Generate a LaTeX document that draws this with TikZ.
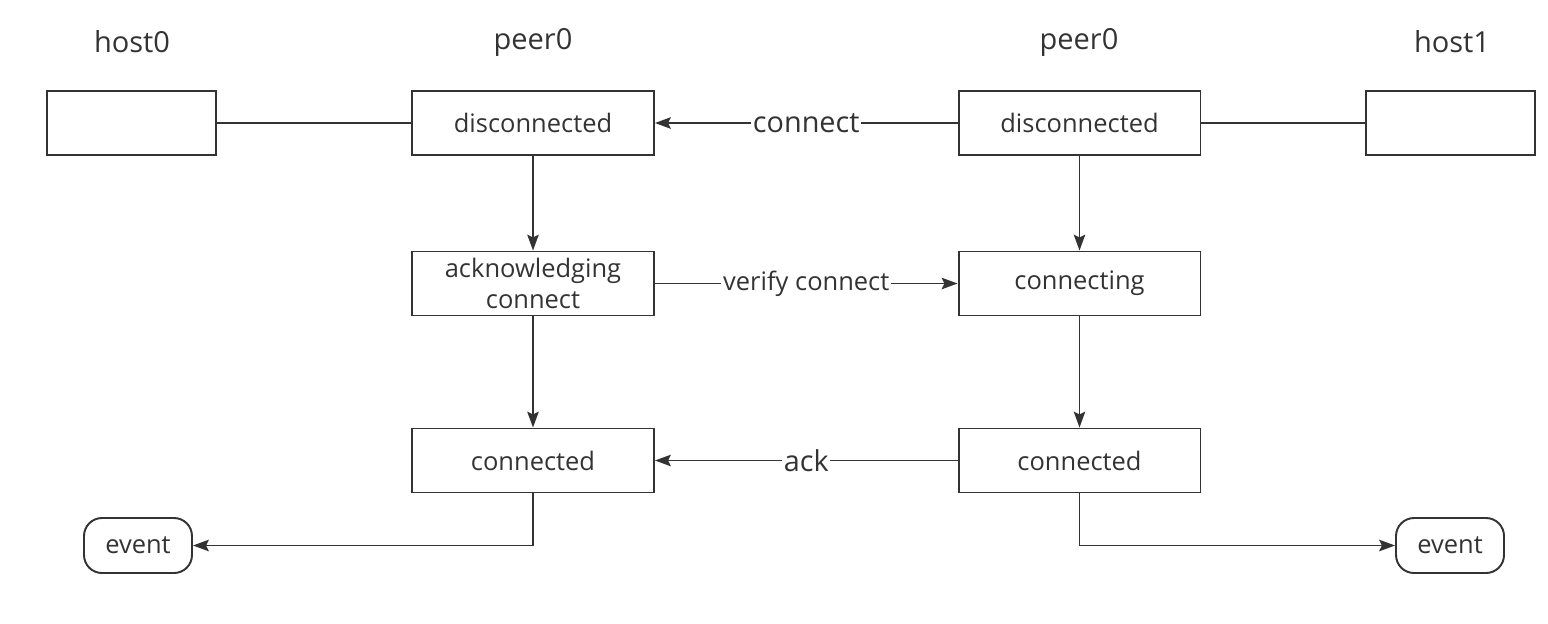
\documentclass[tikz,border=0pt]{standalone}
\usepackage{fontspec}
\setmainfont{Open Sans}
\usetikzlibrary{arrows.meta}
\definecolor{ink}{HTML}{333333}
\begin{document}
\begin{tikzpicture}[x=0.02cm,y=-0.02cm,
  every node/.style={text=ink},
  state/.style={draw=ink,line width=1.1pt,minimum width=4.84cm,minimum height=1.28cm,
    inner sep=0pt,align=center,font=\fontsize{14.5}{16}\selectfont},
  hostbox/.style={draw=ink,line width=1.1pt,minimum width=3.38cm,minimum height=1.28cm,inner sep=0pt},
  eventbox/.style={draw=ink,line width=1.1pt,rounded corners=0.36cm,minimum width=2.16cm,
    minimum height=1.1cm,inner sep=0pt,font=\fontsize{14.5}{16}\selectfont},
  title/.style={font=\fontsize{16.5}{18}\selectfont},
  link/.style={draw=ink,line width=1.1pt},
  flow/.style={link,-{Stealth[length=9pt,width=6.5pt,inset=1.5pt]}},
  biglabel/.style={fill=white,inner sep=1pt,font=\fontsize{16.4}{18}\selectfont},
  smalllabel/.style={fill=white,inner sep=1pt,font=\fontsize{14.5}{16}\selectfont}]
\useasboundingbox (0,0) rectangle (1548,623);

% column titles
\node[title] (t0) at (132,42) {host0};
\node[title] (t1) at (533,42) {peer0};
\node[title] (t2) at (1079,42) {peer0};
\node[title] (t3) at (1452,42) {host1};

% hosts
\node[hostbox] (h0) at (131.5,123) {};
\node[hostbox] (h1) at (1450.5,123) {};

% peer states
\node[state] (ld) at (533,123) {disconnected};
\node[state] (rd) at (1079.5,123) {disconnected};
\node[state,font=\fontsize{14.5}{17.5}\selectfont] (la) at (533,283.5) {acknowledging\\connect};
\node[state] (rc) at (1079.5,283.5) {connecting};
\node[state] (lc) at (533,460.5) {connected};
\node[state] (rcd) at (1079.5,460.5) {connected};

% events
\node[eventbox] (e0) at (138,545.5) {event};
\node[eventbox] (e1) at (1450,545.5) {event};

% connectors
\draw[link] (h0) -- (ld);
\draw[link] (rd) -- (h1);
\draw[flow] (rd) -- node[biglabel] {connect} (ld);
\draw[flow] (ld) -- (la);
\draw[flow] (rd) -- (rc);
\draw[flow] (la) -- node[smalllabel] {verify connect} (rc);
\draw[flow] (la) -- (lc);
\draw[flow] (rc) -- (rcd);
\draw[flow] (rcd) -- node[biglabel] {ack} (lc);
\draw[flow] (lc.south) |- (e0.east);
\draw[flow] (rcd.south) |- (e1.west);
\end{tikzpicture}
\end{document}
